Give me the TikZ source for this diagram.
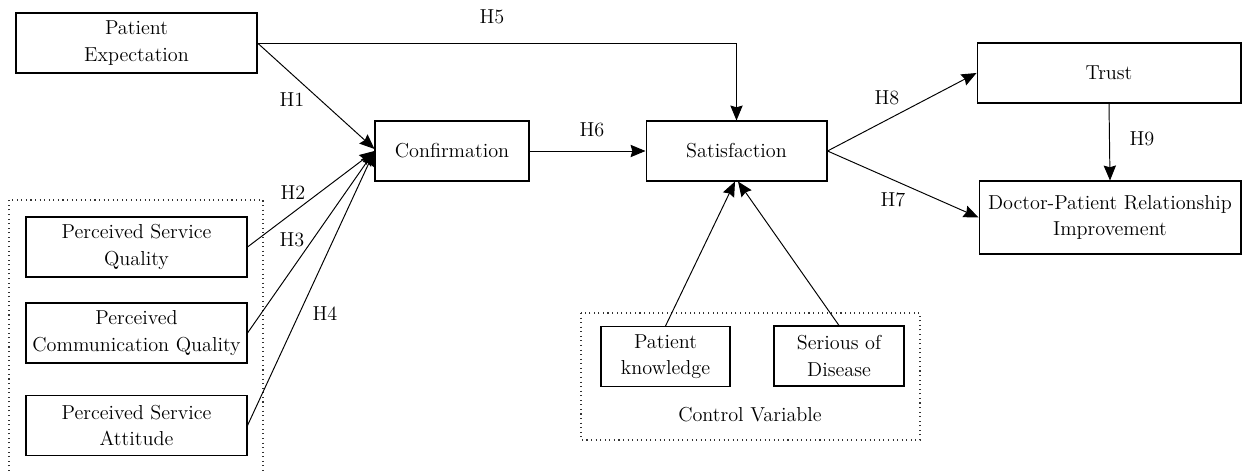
\documentclass[tikz,border=0pt]{standalone}
\usepackage{tikz}
\usetikzlibrary{positioning, arrows.meta, fit, calc}

\begin{document}
\begin{tikzpicture}[
    x=0.02cm, y=-0.02cm,
    >={Stealth[length=8.5pt, width=7pt, inset=1pt]},
    every node/.style={font=\fontsize{11.5}{15}\selectfont},
    var/.style={
      rectangle, draw, line width=0.6pt, inner sep=0pt,
      minimum height=1.2cm, align=center
    },
    hlabel/.style={inner sep=1pt},
    group/.style={draw=black!80, dotted, line width=0.6pt},
    arr/.style={->, line width=0.55pt},
  ]
  \useasboundingbox (0,0) rectangle (1243,472);

  % constructs
  \node[var, minimum width=4.82cm] (pe)    at (136.5,43)  {Patient\\Expectation};
  \node[var, minimum width=3.08cm] (conf)  at (452,151)   {Confirmation};
  \node[var, minimum width=3.62cm] (sat)   at (736.5,151) {Satisfaction};
  \node[var, minimum width=5.28cm] (trust) at (1109,73)   {Trust};
  \node[var, minimum width=5.24cm, minimum height=1.46cm] (dpr) at (1110,217.5)
    {Doctor-Patient Relationship\\Improvement};

  \node[var, minimum width=4.42cm] (psq) at (136.5,247)   {Perceived Service\\Quality};
  \node[var, minimum width=4.42cm] (pcq) at (136.5,333)   {Perceived\\Communication Quality};
  \node[var, minimum width=4.42cm] (psa) at (136.5,425.5) {Perceived Service\\Attitude};

  \node[var, minimum width=2.58cm] (pk) at (665.5,356.5) {Patient\\knowledge};
  \node[var, minimum width=2.6cm]  (sd) at (839,356)     {Serious of\\Disease};

  % dotted groups
  \draw[group] (9,480) -- (9,200) -- (263,200) -- (263,480);
  \draw[group] (581,313) rectangle (920,440);
  \node (ctrl) at (750,415) {Control Variable};

  % paths
  \coordinate (h5corner) at (sat.north |- pe.east);
  \draw[arr] (pe.east) -- (h5corner) -- (sat.north);
  \draw[arr] (pe.east) -- ($(conf.west)+(0,-2)$);
  \draw[arr] (psq.east) -- (conf.west);
  \draw[arr] (pcq.east) -- (conf.west);
  \draw[arr] (psa.east) -- (conf.west);
  \draw[arr] (conf) -- (sat);
  \draw[arr] (sat.east) -- (trust.west);
  \draw[arr] (sat.east) -- (dpr.west);
  \draw[arr] (trust.south) -- (dpr.north);
  \draw[arr] (pk.north) -- ($(sat.south)+(-1.5,0)$);
  \draw[arr] (sd.north) -- ($(sat.south)+(1.5,0)$);

  % hypothesis labels
  \node[hlabel] (lh1) at (292,100) {H1};
  \node[hlabel] (lh2) at (293,193) {H2};
  \node[hlabel] (lh3) at (292,240) {H3};
  \node[hlabel] (lh4) at (325,314) {H4};
  \node[hlabel] (lh5) at (492,17)  {H5};
  \node[hlabel] (lh6) at (592,130) {H6};
  \node[hlabel] (lh7) at (893,200) {H7};
  \node[hlabel] (lh8) at (887,98)  {H8};
  \node[hlabel] (lh9) at (1142,139) {H9};
\end{tikzpicture}
\end{document}
